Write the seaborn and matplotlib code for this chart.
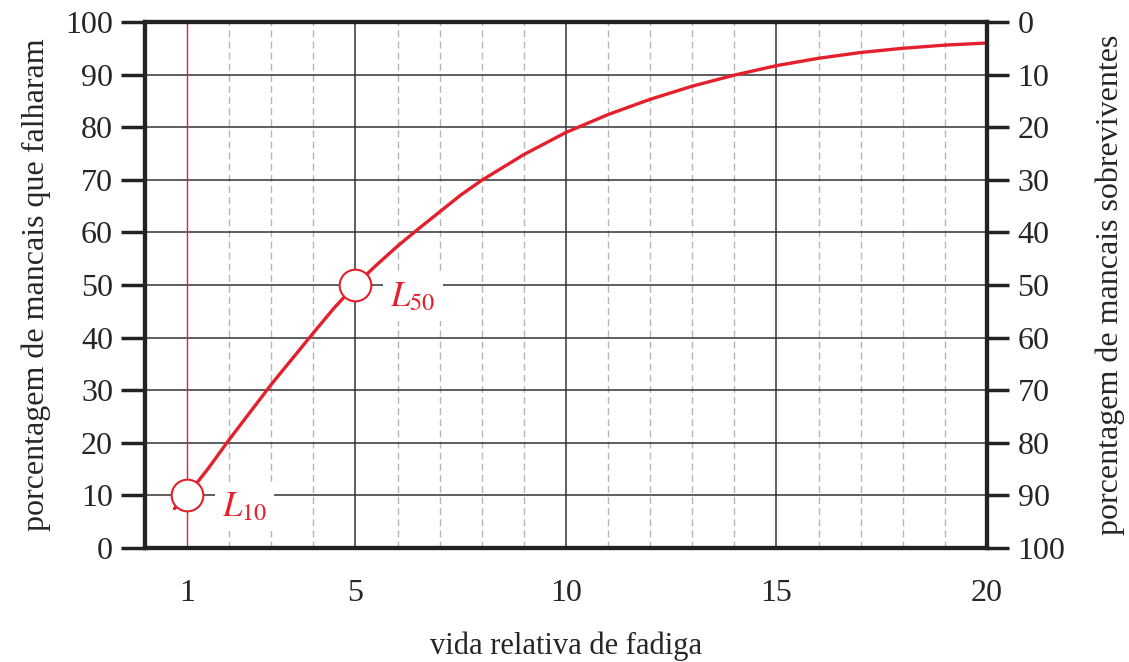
# =========================================
# VIDA RELATIVA DE FADIGA - CURVA DE FALHA
# =========================================

import numpy as np
import pandas as pd
import matplotlib
matplotlib.use("Agg")
import matplotlib.pyplot as plt
import seaborn as sns


# =========================================
# DATA
# =========================================

vida = [0.7, 1, 1.5, 2, 3, 4, 4.5, 5, 5.5, 6, 6.5, 7, 7.5, 8, 9, 10,
        11, 12, 13, 14, 15, 16, 17, 18, 19, 20]

falharam = [7.5, 10, 15.1, 20.6, 31.1, 40.9, 45.7, 50, 53.8, 57.4, 60.7,
            63.9, 67.1, 69.9, 74.8, 79, 82.4, 85.3, 87.8, 89.9, 91.7,
            93.1, 94.2, 95.0, 95.6, 96]

pontos_vida = [1, 5]
pontos_falha = [10, 50]
pontos_nome = ["$L_{10}$", "$L_{50}$"]

x_ticks = [1, 5, 10, 15, 20]
y_ticks = list(range(0, 101, 10))

df = pd.DataFrame({"vida": vida, "falharam": falharam})
df_pts = pd.DataFrame({"vida": pontos_vida, "falharam": pontos_falha})


# =========================================
# STYLE
# =========================================

sns.set_style("white")
plt.rcParams["font.family"] = ["Liberation Serif", "DejaVu Serif"]
plt.rcParams["mathtext.fontset"] = "stix"

RED = "#e3202b"
DARK = "#222222"
FS = 23


# =========================================
# FIGURE
# =========================================

fig = plt.figure(figsize=(11.29, 6.62), dpi=100)
ax = fig.add_axes([0.1284, 0.1722, 0.7458, 0.7946])

ax.set_xlim(0, 20)
ax.set_ylim(0, 100)

# grid
ax.set_xticks(x_ticks)
ax.set_xticks([v for v in range(2, 20) if v not in x_ticks], minor=True)
ax.set_yticks(y_ticks)
ax.grid(which="minor", axis="x", color="#b5b5b5", lw=1.0,
        ls=(0, (5, 3)), zorder=0)
ax.grid(which="major", axis="y", color="#333333", lw=1.1, zorder=0)
for xv in x_ticks[1:-1]:
    ax.axvline(xv, color="#333333", lw=1.1, zorder=0.5)

# L10 vertical line
ax.axvline(pontos_vida[0], color=RED, lw=1.0, zorder=1)

# curve
sns.lineplot(data=df, x="vida", y="falharam", ax=ax, color=RED,
             lw=2.4, zorder=3)

# markers
sns.scatterplot(data=df_pts, x="vida", y="falharam", ax=ax, s=520,
                facecolor="white", edgecolor=RED, linewidth=1.5, zorder=4)

# labels L10 / L50
for xv, yv, nome in zip(pontos_vida, pontos_falha, pontos_nome):
    ax.text(xv + 0.83, yv - 2.4, nome, color=RED, fontsize=25,
            ha="left", va="center", zorder=2,
            bbox=dict(boxstyle="square,pad=0.2", fc="white", ec="none"))

# spines and ticks
for sp in ax.spines.values():
    sp.set_linewidth(3)
    sp.set_color(DARK)

ax.tick_params(axis="y", which="major", direction="out", length=17,
               width=2.5, color=DARK, labelsize=FS, pad=6)
ax.tick_params(axis="x", which="major", direction="out", length=10,
               width=3, color=DARK, labelsize=FS, pad=12)
ax.tick_params(which="minor", length=0)

ax.set_xlabel("vida relativa de fadiga", fontsize=22, labelpad=17)
ax.set_ylabel("porcentagem de mancais que falharam", fontsize=FS,
              labelpad=10)

# right axis (survivors)
ax2 = ax.twinx()
ax2.set_ylim(100, 0)
ax2.set_yticks(y_ticks)
ax2.tick_params(axis="y", direction="out", length=16, width=2.5,
                color=DARK, labelsize=FS, pad=6)
for sp in ax2.spines.values():
    sp.set_linewidth(3)
    sp.set_color(DARK)
ax2.set_ylabel("porcentagem de mancais sobreviventes", fontsize=FS,
               labelpad=22)
ax2.grid(False)

fig.savefig("out.png", dpi=100, facecolor="white")
